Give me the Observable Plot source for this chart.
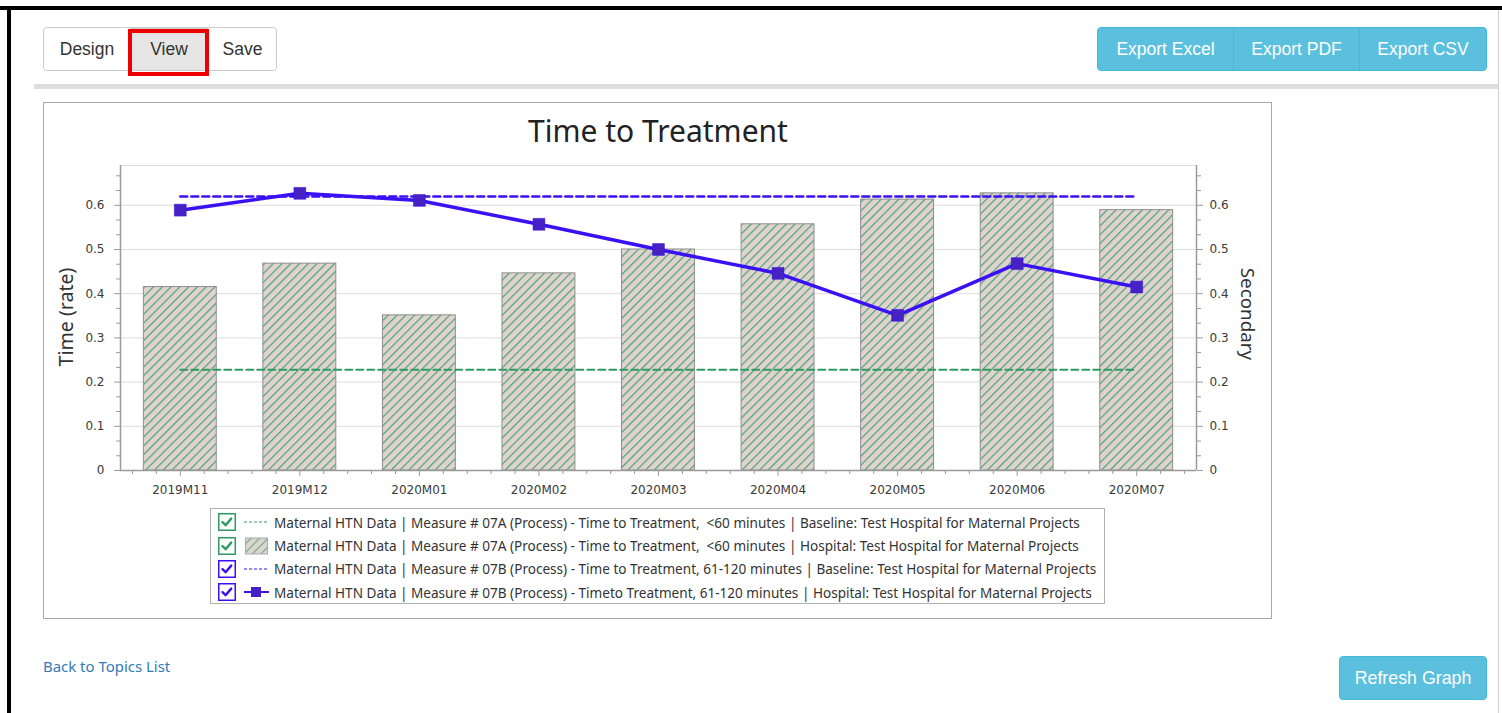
<!DOCTYPE html>
<html><head><meta charset="utf-8">
<script src="https://cdn.jsdelivr.net/npm/d3@7"></script>
<script src="https://cdn.jsdelivr.net/npm/@observablehq/plot@0.6"></script>
<style>
html,body{margin:0;padding:0;background:#fff;}
body{width:1502px;height:713px;overflow:hidden;position:relative;font-family:"Liberation Sans",Arial,sans-serif;}
.abs{position:absolute;box-sizing:border-box;}
.ctr{position:absolute;transform:translate(-50%,-50%);white-space:nowrap;display:inline-block;}
#chart svg g[aria-label$="tick label"]{fill:#3a3a3a;}
.btn{position:absolute;top:0;height:100%;display:flex;align-items:center;justify-content:center;font-size:17.5px;}
.lrow{position:absolute;left:0;height:22px;display:flex;align-items:center;}
.ltext{white-space:pre;display:inline-block;color:#333;font-family:"Noto Sans",sans-serif;font-size:13px;}
</style></head>
<body>
<div class="abs" style="left:0;top:6px;width:1502px;height:4px;background:#000"></div>
<div class="abs" style="left:7px;top:6px;width:4px;height:707px;background:#000"></div>
<div class="abs" style="left:1498px;top:10px;width:1px;height:703px;background:#d0d0d0"></div>
<div class="abs" style="left:34px;top:84px;width:1464px;height:5px;background:#dedede"></div>

<div class="abs" style="left:43px;top:27px;width:234px;height:44px;border:1px solid #ccc;border-radius:4px;color:#333">
  <div class="btn" style="left:0;width:86px">Design</div>
  <div class="btn" style="left:86px;width:78px;background:#e6e6e6;box-shadow:inset 0 3px 5px rgba(0,0,0,.125)">View</div>
  <div class="btn" style="left:164px;width:69px">Save</div>
</div>
<div class="abs" style="left:128px;top:29px;width:81px;height:47px;border:4px solid #ee0000"></div>

<div class="abs" style="left:1097px;top:27px;width:390px;height:44px;background:#5bc0de;border:1px solid #46b8da;border-radius:4px;color:#fff">
  <div class="btn" style="left:0;width:136px;border-right:1px solid #46b8da;box-sizing:border-box">Export Excel</div>
  <div class="btn" style="left:136px;width:126px;border-right:1px solid #46b8da;box-sizing:border-box">Export PDF</div>
  <div class="btn" style="left:262px;width:126px">Export CSV</div>
</div>

<div class="abs" style="left:43px;top:102px;width:1229px;height:517px;border:1px solid #a8a8a8"></div>
<span id="title" class="ctr" style="left:658px;top:130px;font-family:'Noto Sans',sans-serif;font-size:27px;color:#222">Time to Treatment</span>
<div id="chart" class="abs" style="left:44px;top:150px;width:1226px;height:350px"></div>
<span id="ylab" class="ctr" style="left:65px;top:317px;font-family:'Noto Sans',sans-serif;font-size:18px;color:#333;transform:translate(-50%,-50%) rotate(-90deg)">Time (rate)</span>
<span id="y2lab" class="ctr" style="left:1248px;top:314px;font-family:'Noto Sans',sans-serif;font-size:18px;color:#333;transform:translate(-50%,-50%) rotate(90deg)">Secondary</span>

<div id="legend" class="abs" style="left:210px;top:508px;width:895px;height:96px;border:1px solid #b0b0b0"></div>

<span id="back" class="abs" style="left:43px;top:656px;font-family:'Noto Sans',sans-serif;font-size:14px;color:#337ab7;white-space:nowrap">Back to Topics List</span>
<div class="abs" style="left:1339px;top:656px;width:148px;height:44px;background:#5bc0de;border:1px solid #46b8da;border-radius:4px;color:#fff;display:flex;align-items:center;justify-content:center;font-size:17.8px">Refresh Graph</div>

<script>
const categories = ["2019M11","2019M12","2020M01","2020M02","2020M03","2020M04","2020M05","2020M06","2020M07"];
const hospital07A = [0.415,0.468,0.351,0.446,0.500,0.557,0.613,0.627,0.589];
const hospital07B = [0.589,0.627,0.611,0.557,0.500,0.446,0.351,0.468,0.415];
const baseline07A = [0.228,0.228,0.228,0.228,0.228,0.228,0.228,0.228,0.228];
const baseline07B = [0.620,0.620,0.620,0.620,0.620,0.620,0.620,0.620,0.620];
const yTickValues = [0,0.1,0.2,0.3,0.4,0.5,0.6];
const legendLabels = [
  "Maternal HTN Data | Measure # 07A (Process) - Time to Treatment,  <60 minutes | Baseline: Test Hospital for Maternal Projects",
  "Maternal HTN Data | Measure # 07A (Process) - Time to Treatment,  <60 minutes | Hospital: Test Hospital for Maternal Projects",
  "Maternal HTN Data | Measure # 07B (Process) - Time to Treatment, 61-120 minutes | Baseline: Test Hospital for Maternal Projects",
  "Maternal HTN Data | Measure # 07B (Process) - Timeto Treatment, 61-120 minutes | Hospital: Test Hospital for Maternal Projects"
];

const GREEN = "#2f9a62", BLUE = "#3a10f5", MARK = "#4621c4";
const rows = categories.map((c, i) => ({i, c, a: hospital07A[i], b: hospital07B[i], baseA: baseline07A[i], baseB: baseline07B[i]}));
const minorY = d3.range(1, 21).filter(k => k % 3 !== 0).map(k => k / 30);
const minorX = d3.range(-2, 43).filter(k => k % 5 !== 0).map(k => k / 5);
const fmt = d => d === 0 ? "0" : d.toFixed(1);
const BW = 0.305;

const plot = Plot.plot({
  width: 1226, height: 350,
  marginLeft: 76, marginRight: 74, marginTop: 15, marginBottom: 30,
  x: {type: "linear", domain: [-0.5, 8.5], axis: null},
  y: {domain: [0, 0.69], axis: null},
  style: {fontFamily: "DejaVu Sans, sans-serif", fontSize: "12px", color: "#9a9a9a", background: "transparent", overflow: "visible"},
  marks: [
    Plot.gridY(yTickValues.slice(1), {stroke: "#dddddd", strokeOpacity: 1}),
    Plot.ruleY([0.69], {stroke: "#dddddd"}),
    Plot.rect(rows, {x1: d => d.i - BW, x2: d => d.i + BW, y1: 0, y2: "a", fill: "url(#hatch)", stroke: "#8e8e8e", strokeWidth: 1}),
    Plot.lineY(rows, {x: "i", y: "baseA", stroke: GREEN, strokeWidth: 2, strokeDasharray: "7,4"}),
    Plot.lineY(rows, {x: "i", y: "baseB", stroke: BLUE, strokeWidth: 2.5, strokeDasharray: "7,4"}),
    Plot.lineY(rows, {x: "i", y: "b", stroke: BLUE, strokeWidth: 3.5}),
    Plot.dot(rows, {x: "i", y: "b", symbol: "square", r: 6.7, fill: MARK, stroke: "#3a10e0", strokeWidth: 0.5}),
    Plot.ruleX([-0.5, 8.5], {stroke: "#9a9a9a", strokeWidth: 1.5}),
    Plot.ruleY([0], {stroke: "#9a9a9a", strokeWidth: 1.5}),
    Plot.axisY(yTickValues, {anchor: "left", label: null, tickSize: 6, tickPadding: 10, tickFormat: fmt}),
    Plot.axisY(minorY, {anchor: "left", label: null, tickSize: 4, text: null}),
    Plot.axisY(yTickValues, {anchor: "right", label: null, tickSize: 6, tickPadding: 7, tickFormat: fmt}),
    Plot.axisY(minorY, {anchor: "right", label: null, tickSize: 4, text: null}),
    Plot.axisX(d3.range(categories.length), {anchor: "bottom", label: null, tickSize: 6, tickPadding: 9, tickFormat: i => categories[i]}),
    Plot.axisX(minorX, {anchor: "bottom", label: null, tickSize: 4, text: null})
  ]
});
d3.select(plot).insert("defs", ":first-child").html(
  `<pattern id="hatch" patternUnits="userSpaceOnUse" width="6.2" height="6.2" patternTransform="rotate(45)">
     <rect width="6.2" height="6.2" fill="#e0d3ce"></rect>
     <line x1="0.6" y1="0" x2="0.6" y2="6.2" stroke="#3f9e70" stroke-width="1.1"></line>
   </pattern>`);
document.getElementById("chart").appendChild(plot);

// legend
const legend = document.getElementById("legend");
const check = (col) => `<svg width="18" height="18" style="flex:none"><rect x="0.75" y="0.75" width="16.5" height="16.5" fill="#fff" stroke="${col}" stroke-width="1.5"/><path d="M4.5 9.2 L7.6 12.2 L13.2 5.6" fill="none" stroke="${col}" stroke-width="2.4" stroke-linecap="round" stroke-linejoin="round"/></svg>`;
const symbols = [
  `<svg width="26" height="18" style="flex:none"><line x1="1" y1="9" x2="25" y2="9" stroke="${GREEN}" stroke-width="1" stroke-dasharray="3,2"/></svg>`,
  `<svg width="26" height="18" style="flex:none"><defs><pattern id="hatchL" patternUnits="userSpaceOnUse" width="6" height="6" patternTransform="rotate(45)"><rect width="6" height="6" fill="#e0d4cf"/><line x1="0.6" y1="0" x2="0.6" y2="6" stroke="#5fae86" stroke-width="1.1"/></pattern></defs><rect x="2.5" y="1" width="22" height="16" fill="url(#hatchL)" stroke="#aaa"/></svg>`,
  `<svg width="26" height="18" style="flex:none"><line x1="1" y1="9" x2="25" y2="9" stroke="${BLUE}" stroke-width="1" stroke-dasharray="3,2"/></svg>`,
  `<svg width="26" height="18" style="flex:none"><line x1="1" y1="9" x2="26" y2="9" stroke="${BLUE}" stroke-width="2"/><rect x="8" y="4" width="10" height="10" fill="${MARK}"/></svg>`
];
const cols = [GREEN, GREEN, BLUE, BLUE];
const tops = [2, 25.5, 48.5, 72];
const spans = [];
legendLabels.forEach((t, k) => {
  const r = document.createElement("div");
  r.className = "lrow";
  r.style.left = "7px";
  r.style.top = tops[k] + "px";
  r.innerHTML = check(cols[k]) + `<span style="width:7px"></span>` + symbols[k] + `<span style="width:5px"></span><span class="ltext">${t.replace(/</g, "&lt;")}</span>`;
  legend.appendChild(r);
  spans.push(r.querySelector(".ltext"));
});
function fitSize(el, target) {
  const cur = parseFloat(getComputedStyle(el).fontSize);
  return cur * target / el.offsetWidth;
}
const ls = fitSize(spans[2], 823);
spans.forEach(s => s.style.fontSize = ls + "px");
const tEl = document.getElementById("title"); tEl.style.fontSize = fitSize(tEl, 260) + "px";
const yl = document.getElementById("ylab"); yl.style.fontSize = fitSize(yl, 99) + "px";
const y2 = document.getElementById("y2lab"); y2.style.fontSize = fitSize(y2, 92) + "px";
const bk = document.getElementById("back"); bk.style.fontSize = fitSize(bk, 127) + "px";
</script>
</body></html>
